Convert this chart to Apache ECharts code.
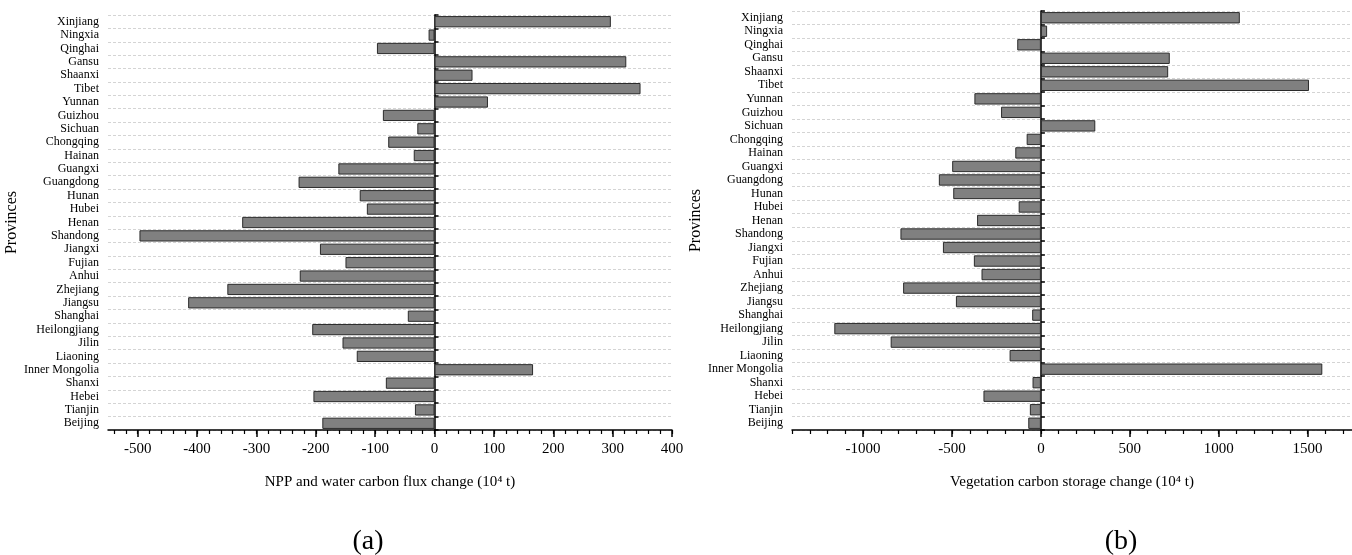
<!DOCTYPE html>
<html>
<head>
<meta charset="utf-8">
<script src="https://cdn.jsdelivr.net/npm/echarts@6/dist/echarts.min.js"></script>
<style>
html,body{margin:0;padding:0;background:#fff;}
#c{width:1352px;height:555px;}
</style>
</head>
<body>
<div id="c"></div>
<script>
// Categories, bottom to top
var provinces = ['Beijing','Tianjin','Hebei','Shanxi','Inner Mongolia','Liaoning','Jilin','Heilongjiang','Shanghai','Jiangsu','Zhejiang','Anhui','Fujian','Jiangxi','Shandong','Henan','Hubei','Hunan','Guangdong','Guangxi','Hainan','Chongqing','Sichuan','Guizhou','Yunnan','Tibet','Shaanxi','Gansu','Qinghai','Ningxia','Xinjiang'];

// (a) NPP and water carbon flux change (10^4 t)
var nppChange = [-189,-33,-204,-82,166,-131,-155,-206,-45,-415,-349,-227,-150,-193,-497,-324,-114,-126,-229,-162,-35,-78,-29,-87,90,347,64,323,-97,-10,297];

// (b) Vegetation carbon storage change (10^4 t)
var vegChange = [-71,-62,-323,-47,1583,-176,-845,-1162,-49,-478,-775,-334,-377,-551,-790,-359,-125,-493,-574,-499,-144,-80,306,-224,-374,1508,716,725,-133,35,1119];

// Tick labels
var ticksA = [-500,-400,-300,-200,-100,0,100,200,300,400];
var minorTicksA = [-540,-520,-500,-480,-460,-440,-420,-400,-380,-360,-340,-320,-300,-280,-260,-240,-220,-200,-180,-160,-140,-120,-100,-80,-60,-40,-20,0,20,40,60,80,100,120,140,160,180,200,220,240,260,280,300,320,340,360,380,400];
var ticksB = [-1000,-500,0,500,1000,1500];
var minorTicksB = [-1400,-1300,-1200,-1100,-1000,-900,-800,-700,-600,-500,-400,-300,-200,-100,0,100,200,300,400,500,600,700,800,900,1000,1100,1200,1300,1400,1500,1600,1700];

var FONT = 'Liberation Serif';
var chart = echarts.init(document.getElementById('c'), null, {renderer:'canvas'});

function majorX(grid, min, max, ticks, name) {
  return {
    type:'value', gridIndex:grid, min:min, max:max, position:'bottom',
    name:name, nameLocation:'middle', nameGap:45,
    nameTextStyle:{fontFamily:FONT, fontSize:15, color:'#000'},
    axisLine:{show:true, onZero:false, lineStyle:{color:'#000', width:1.5}},
    axisTick:{show:true, length:7, customValues:ticks, lineStyle:{color:'#000', width:1.5}},
    axisLabel:{show:true, customValues:ticks, margin:12, fontFamily:FONT, fontSize:15, color:'#000',
      formatter:function(v){return String(v);}},
    splitLine:{show:false}
  };
}
function minorX(grid, min, max, ticks) {
  return {
    type:'value', gridIndex:grid, min:min, max:max, position:'bottom',
    axisLine:{show:false, onZero:false},
    axisTick:{show:true, length:4, customValues:ticks, lineStyle:{color:'#000', width:1.2}},
    axisLabel:{show:false},
    splitLine:{show:false}
  };
}
function labelY(grid, gap) {
  return {
    type:'category', gridIndex:grid, data:provinces, position:'left',
    name:'Provinces', nameLocation:'middle', nameGap:gap,
    nameTextStyle:{fontFamily:FONT, fontSize:16, color:'#000'},
    axisLine:{show:false, onZero:false},
    axisTick:{show:false, interval:0},
    axisLabel:{show:true, interval:0, margin:9, fontFamily:FONT, fontSize:12, color:'#000'},
    splitLine:{show:true, interval:0, lineStyle:{type:[3,2], color:'#d4d4d4', width:1}}
  };
}
function zeroY(grid, xIdx) {
  return {
    type:'category', gridIndex:grid, data:provinces, position:'left',
    axisLine:{show:true, onZero:true, onZeroAxisIndex:xIdx, lineStyle:{color:'#000', width:1.5}},
    axisTick:{show:true, interval:0, inside:true, length:4, lineStyle:{color:'#000', width:1.5}},
    axisLabel:{show:false, interval:0},
    splitLine:{show:false}
  };
}

var barStyle = {color:'#808080', borderColor:'#2b2b2b', borderWidth:1};

chart.setOption({
  animation:false,
  backgroundColor:'#fff',
  grid:[
    {left:108, right:680, top:15, bottom:125, containLabel:false},
    {left:792, right:0, top:11, bottom:125, containLabel:false}
  ],
  xAxis:[
    majorX(0, -550, 400, ticksA, 'NPP and water carbon flux change (10\u2074 t)'),
    minorX(0, -550, 400, minorTicksA),
    majorX(1, -1400, 1750, ticksB, 'Vegetation carbon storage change (10\u2074 t)'),
    minorX(1, -1400, 1750, minorTicksB)
  ],
  yAxis:[
    labelY(0, 81),
    zeroY(0, 0),
    labelY(1, 83),
    zeroY(1, 2)
  ],
  series:[
    {type:'bar', xAxisIndex:0, yAxisIndex:0, data:nppChange, barCategoryGap:'16%', itemStyle:barStyle, silent:true},
    {type:'bar', xAxisIndex:2, yAxisIndex:2, data:vegChange, barCategoryGap:'16%', itemStyle:barStyle, silent:true}
  ],
  graphic:[
    {type:'text', x:368, y:542, style:{text:'(a)', font:'28px "Liberation Serif"', fill:'#000', textAlign:'center', textVerticalAlign:'middle'}},
    {type:'text', x:1121, y:542, style:{text:'(b)', font:'28px "Liberation Serif"', fill:'#000', textAlign:'center', textVerticalAlign:'middle'}}
  ]
});
</script>
</body>
</html>
